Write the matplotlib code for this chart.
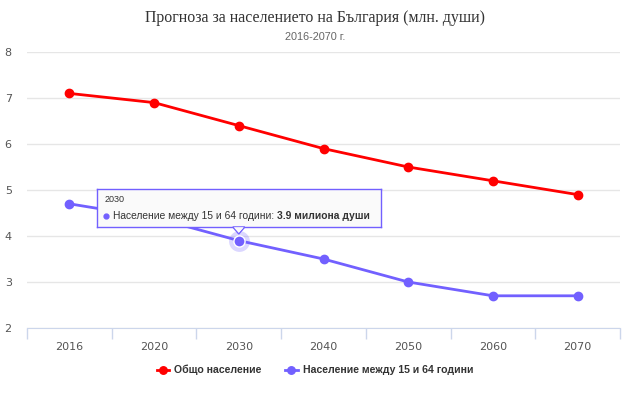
import matplotlib
matplotlib.use("Agg")
import matplotlib.pyplot as plt
import numpy as np

years = ["2016", "2020", "2030", "2040", "2050", "2060", "2070"]
total = [7.1, 6.9, 6.4, 5.9, 5.5, 5.2, 4.9]
working = [4.7, 4.4, 3.9, 3.5, 3.0, 2.7, 2.7]
name_total = "Общо население"
name_work = "Население между 15 и 64 години"
title = "Прогноза за населението на България (млн. души)"
subtitle = "2016-2070 г."

W, H = 630, 393
fig = plt.figure(figsize=(W/100, H/100), dpi=100)
L, R, T, B = 27, 620, 52, 328
ax = fig.add_axes([L/W, 1 - B/H, (R-L)/W, (B-T)/H])

x = np.arange(len(years))
red = "#ff0000"
purple = "#7260ff"
ax.plot(x, total, color=red, lw=2, marker="o", ms=6, zorder=3, label=name_total)
ax.plot(x, working, color=purple, lw=2, marker="o", ms=6, zorder=3, label=name_work)
# hover halo
ax.plot([x[2]], [working[2]], "o", ms=15, color=purple, alpha=0.25, mew=0, zorder=2)
ax.plot([x[2]], [working[2]], "o", ms=8, mfc=purple, mec="white", mew=1, zorder=4)

ax.set_xlim(-0.5, len(years) - 0.5)
ax.set_ylim(2, 8)
ax.set_yticks(range(2, 9))
ax.set_xticks(x)
ax.set_xticklabels(years)
ax.set_xticks(np.arange(-0.5, len(years)), minor=True)
ax.tick_params(axis="x", which="major", length=0, pad=10, labelsize=8, labelcolor="#555555")
ax.tick_params(axis="x", which="minor", length=8, color="#ccd6eb", width=1)
ax.tick_params(axis="y", length=0, labelsize=8, labelcolor="#555555", pad=11)
ax.grid(axis="y", color="#e6e6e6", lw=1)
ax.set_axisbelow(True)
for s in ["top", "right", "left"]:
    ax.spines[s].set_visible(False)
ax.spines["bottom"].set_color("#ccd6eb")
ax.spines["bottom"].set_zorder(1)

fig.text(0.5, 1 - 18/H, title, ha="center", va="center", fontsize=11.4,
         family="Liberation Serif", color="#333333")
fig.text(0.5, 1 - 37/H, subtitle, ha="center", va="center", fontsize=7.8,
         family="Liberation Sans", color="#666666")

leg = fig.legend(loc="center", bbox_to_anchor=(0.5, 1 - 370/H), ncol=2, frameon=False,
                 prop={"weight": "bold", "size": 7.6, "family": "Liberation Sans"},
                 handlelength=1.2, columnspacing=2.2, handletextpad=0.5, markerscale=0.9)
for t in leg.get_texts():
    t.set_color("#333333")

# tooltip
bx0, by0, bx1, by1 = 97, 189, 381, 227
tip = fig.add_axes([bx0/W, 1 - by1/H, (bx1-bx0)/W, (by1-by0)/H], zorder=5)
tip.set_xlim(0, 1); tip.set_ylim(0, 1)
tip.patch.set_facecolor("#fafafa")
for s in tip.spines.values():
    s.set_color(purple); s.set_linewidth(1)
tip.set_xticks([]); tip.set_yticks([])
tip.text(0.025, 0.72, years[2], fontsize=6.5, va="center", color="#333333", family="Liberation Sans")
tip.plot([0.033], [0.3], "o", ms=3.5, color=purple)
t1 = tip.text(0.056, 0.3, f"{name_work}: ", fontsize=7.4, va="center", color="#333333",
              family="Liberation Sans")
tip.annotate(f"{working[2]} милиона души", xy=(1, 0.5), xycoords=t1, va="center", ha="left",
             fontsize=7.4, color="#333333", family="Liberation Sans", weight="bold")
# pointer
px = (ax.transData.transform((2, 0))[0]) / W
fig.patches.append(plt.Polygon([[px - 6/W, 1 - by1/H], [px + 6/W, 1 - by1/H], [px, 1 - (by1 + 7)/H]],
                               closed=True, transform=fig.transFigure, facecolor="#fafafa",
                               edgecolor=purple, lw=1, zorder=6))
fig.patches.append(plt.Polygon([[px - 5/W, 1 - (by1 + 0.2)/H], [px + 5/W, 1 - (by1 + 0.2)/H], [px, 1 - (by1 + 5.5)/H]],
                               closed=True, transform=fig.transFigure, facecolor="#fafafa",
                               edgecolor="none", zorder=7))

fig.savefig("out.png", dpi=100)
